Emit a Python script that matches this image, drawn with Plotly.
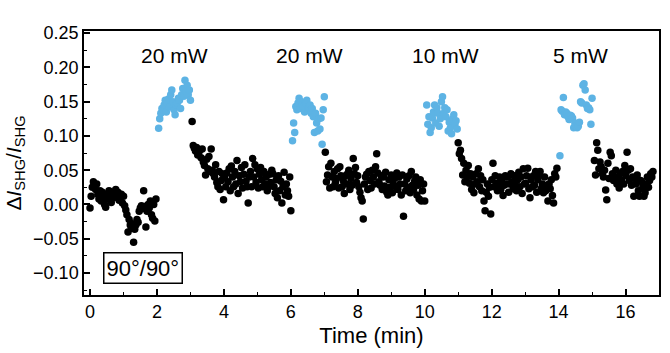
import numpy as np
import plotly.graph_objects as go

# ---- data (time in min, dI/I) ----
black1_span = (0.0, 1.97)
black1_vals = [-0.005, 0.012, 0.025, 0.033, 0.028, 0.022, 0.030, 0.015, 0.008, 0.020,
               0.005, 0.018, 0.010, 0.000, -0.004, 0.015, 0.008, 0.020, 0.012, 0.003,
               0.018, 0.010, 0.015, 0.022, 0.012, 0.018, 0.006, 0.010, 0.015, 0.002,
               0.012, -0.002, -0.008, -0.015, -0.040, -0.022, -0.030, -0.035, -0.028, -0.055,
               -0.036, -0.030, -0.022, -0.026, -0.010, -0.005, -0.002, -0.006, 0.020, -0.003,
               -0.033, -0.010, 0.000, -0.005, 0.005, -0.015, -0.020, 0.000, -0.024, 0.008]

blue1_span = (2.05, 3.0)
blue1_vals = [0.111, 0.125, 0.133, 0.140, 0.138, 0.145, 0.152, 0.135, 0.148, 0.154,
              0.142, 0.160, 0.167, 0.150, 0.138, 0.131, 0.145, 0.148, 0.155, 0.152,
              0.140, 0.160, 0.169, 0.158, 0.181, 0.165, 0.174, 0.160, 0.167, 0.152]

black2_span = (3.05, 6.0)
black2_vals = [0.121, 0.086, 0.082, 0.078, 0.083, 0.072, 0.076, 0.080, 0.068, 0.081,
               0.062, 0.057, 0.043, 0.066, 0.052, 0.070, 0.048, 0.081, 0.050, 0.045,
               0.040, 0.058, 0.032, 0.026, 0.048, 0.022, 0.035, 0.045, 0.007, 0.040,
               0.026, 0.046, 0.033, 0.052, 0.020, 0.056, 0.040, 0.026, 0.048, 0.030,
               0.064, 0.016, 0.042, 0.033, 0.054, 0.024, 0.044, 0.058, 0.034, 0.026,
               0.002, 0.040, 0.048, 0.026, 0.067, 0.040, 0.058, 0.032, 0.052, 0.024,
               0.044, 0.054, 0.036, 0.026, 0.048, 0.030, 0.040, 0.020, 0.026, 0.044,
               0.032, 0.050, 0.045, 0.026, 0.016, 0.036, 0.010, 0.042, 0.020, 0.034,
               0.002, 0.026, 0.047, 0.014, 0.030, 0.020, 0.012, 0.040, -0.009]

blue2_span = (6.05, 7.0)
blue2_vals = [0.093, 0.119, 0.105, 0.143, 0.138, 0.148, 0.155, 0.140, 0.150, 0.145,
              0.142, 0.135, 0.148, 0.152, 0.138, 0.141, 0.145, 0.133, 0.140, 0.128,
              0.105, 0.133, 0.119, 0.107, 0.125, 0.110, 0.126, 0.088, 0.138, 0.157]

black3_span = (7.03, 10.0)
black3_vals = [0.076, 0.033, 0.043, 0.055, 0.024, 0.060, 0.040, 0.026, 0.048, 0.032,
               0.038, 0.052, 0.024, 0.055, 0.042, 0.026, 0.035, 0.016, 0.042, 0.030,
               0.045, 0.050, 0.022, 0.038, 0.028, 0.067, 0.045, 0.054, 0.032, 0.042,
               0.026, 0.018, 0.010, 0.005, -0.021, 0.030, 0.040, 0.044, 0.022, 0.048,
               0.035, 0.024, 0.050, 0.040, 0.030, 0.055, 0.074, 0.046, 0.033, 0.028,
               0.042, 0.022, 0.040, 0.027, 0.047, 0.018, 0.014, 0.036, 0.025, 0.043,
               0.017, 0.029, 0.038, 0.026, 0.046, 0.022, 0.040, 0.030, 0.014, 0.043,
               -0.017, 0.030, 0.020, 0.037, 0.025, 0.042, 0.017, 0.048, 0.028, 0.022,
               0.034, 0.040, 0.014, 0.028, 0.008, 0.036, 0.005, 0.020, 0.030, 0.005]

blue3_span = (10.06, 10.97)
blue3_vals = [0.145, 0.117, 0.128, 0.105, 0.112, 0.126, 0.135, 0.145, 0.119, 0.141,
              0.133, 0.114, 0.125, 0.150, 0.157, 0.133, 0.141, 0.128, 0.138, 0.107,
              0.120, 0.112, 0.103, 0.125, 0.131, 0.117, 0.122, 0.110]

black4_span = (11.0, 13.95)
black4_vals = [0.090, 0.074, 0.079, 0.067, 0.043, 0.060, 0.033, 0.050, 0.040, 0.057,
               0.031, 0.045, 0.022, 0.040, 0.017, 0.030, 0.045, 0.033, 0.052, 0.026,
               0.042, 0.020, 0.036, 0.005, -0.009, 0.018, 0.030, 0.012, 0.025, -0.014,
               0.036, 0.060, 0.026, 0.042, 0.031, 0.020, 0.030, 0.040, 0.022, 0.036,
               0.013, 0.028, 0.042, 0.030, 0.040, 0.018, 0.030, 0.045, 0.033, 0.023,
               0.042, 0.028, 0.020, 0.036, 0.047, 0.026, 0.040, 0.016, 0.052, 0.030,
               0.031, 0.042, 0.053, 0.023, 0.010, 0.036, 0.026, 0.042, 0.028, 0.048,
               0.018, 0.036, 0.043, 0.048, 0.023, 0.030, 0.017, 0.040, 0.020, 0.028,
               0.005, 0.030, 0.023, 0.036, 0.013, 0.002, 0.045, 0.040, 0.053]

blue4_span = (14.04, 15.0)
blue4_vals = [0.071, 0.138, 0.136, 0.156, 0.131, 0.135, 0.133, 0.128, 0.124, 0.130,
              0.129, 0.126, 0.112, 0.119, 0.115, 0.112, 0.114, 0.120, 0.150, 0.148,
              0.174, 0.176, 0.167, 0.145, 0.140, 0.141, 0.138, 0.117, 0.155]

black5_span = (15.07, 16.82)
black5_vals = [0.064, 0.043, 0.090, 0.079, 0.052, 0.062, 0.055, 0.045, 0.040, 0.050,
               0.021, 0.007, 0.060, 0.038, 0.076, 0.071, 0.045, 0.035, 0.040, 0.050,
               0.030, 0.038, 0.024, 0.045, 0.035, 0.048, 0.030, 0.057, 0.042, 0.076,
               0.050, 0.035, 0.052, 0.028, 0.040, 0.012, 0.038, 0.030, 0.043, 0.020,
               0.012, 0.035, 0.033, 0.025, 0.012, 0.017, 0.030, 0.040, 0.025, 0.035,
               0.045, 0.040, 0.048]

power_labels = ["20 mW", "20 mW", "10 mW", "5 mW"]
power_label_x = [2.53, 6.57, 10.61, 14.66]
power_label_y = 0.217

black_segments = [(black1_span, black1_vals), (black2_span, black2_vals),
                  (black3_span, black3_vals), (black4_span, black4_vals),
                  (black5_span, black5_vals)]
blue_segments = [(blue1_span, blue1_vals), (blue2_span, blue2_vals),
                 (blue3_span, blue3_vals), (blue4_span, blue4_vals)]


def build(segments):
    xs, ys = [], []
    for (t0, t1), vals in segments:
        xs.extend(np.linspace(t0, t1, len(vals)).tolist())
        ys.extend(vals)
    return xs, ys


bx, by = build(black_segments)
lx, ly = build(blue_segments)

FONT = "Liberation Sans, Arial, sans-serif"

fig = go.Figure()
fig.add_trace(go.Scatter(x=bx, y=by, mode="markers",
                         marker=dict(color="black", size=7.5), showlegend=False))
fig.add_trace(go.Scatter(x=lx, y=ly, mode="markers",
                         marker=dict(color="#5DB3E4", size=7.5), showlegend=False))

for txt, x in zip(power_labels, power_label_x):
    fig.add_annotation(x=x, y=power_label_y, text=txt, showarrow=False,
                       font=dict(family=FONT, size=21, color="black"))

fig.add_annotation(x=1.58, y=-0.093, text="90°/90°", showarrow=False,
                   font=dict(family=FONT, size=22, color="black"),
                   bordercolor="black", borderwidth=1.5, borderpad=2,
                   bgcolor="white")

fig.update_layout(
    width=670, height=353,
    margin=dict(l=84, r=9, t=31, b=54),
    paper_bgcolor="white", plot_bgcolor="white",
    font=dict(family=FONT, size=18, color="black"),
)
fig.update_xaxes(
    range=[-0.18, 17.0], tick0=0, dtick=2, showgrid=False, zeroline=False,
    showline=True, linecolor="black", linewidth=1.5, mirror=True,
    ticks="inside", ticklen=6, tickwidth=1.5, tickcolor="black",
    minor=dict(dtick=1, ticks="inside", ticklen=3, tickwidth=1.2, tickcolor="black"),
    tickfont=dict(family=FONT, size=18),
    title=dict(text="Time (min)", font=dict(family=FONT, size=22), standoff=6),
)
fig.update_yaxes(
    range=[-0.132, 0.253], tick0=0, dtick=0.05, tickformat=".2f",
    showgrid=False, zeroline=False,
    showline=True, linecolor="black", linewidth=1.5, mirror=True,
    ticks="inside", ticklen=6, tickwidth=1.5, tickcolor="black",
    minor=dict(dtick=0.025, ticks="inside", ticklen=3, tickwidth=1.2, tickcolor="black"),
    tickfont=dict(family=FONT, size=18),
    title=dict(text="Δ<i>I</i><sub>SHG</sub>/<i>I</i><sub>SHG</sub>",
               font=dict(family=FONT, size=21), standoff=6),
)

fig.write_html("out.html")
